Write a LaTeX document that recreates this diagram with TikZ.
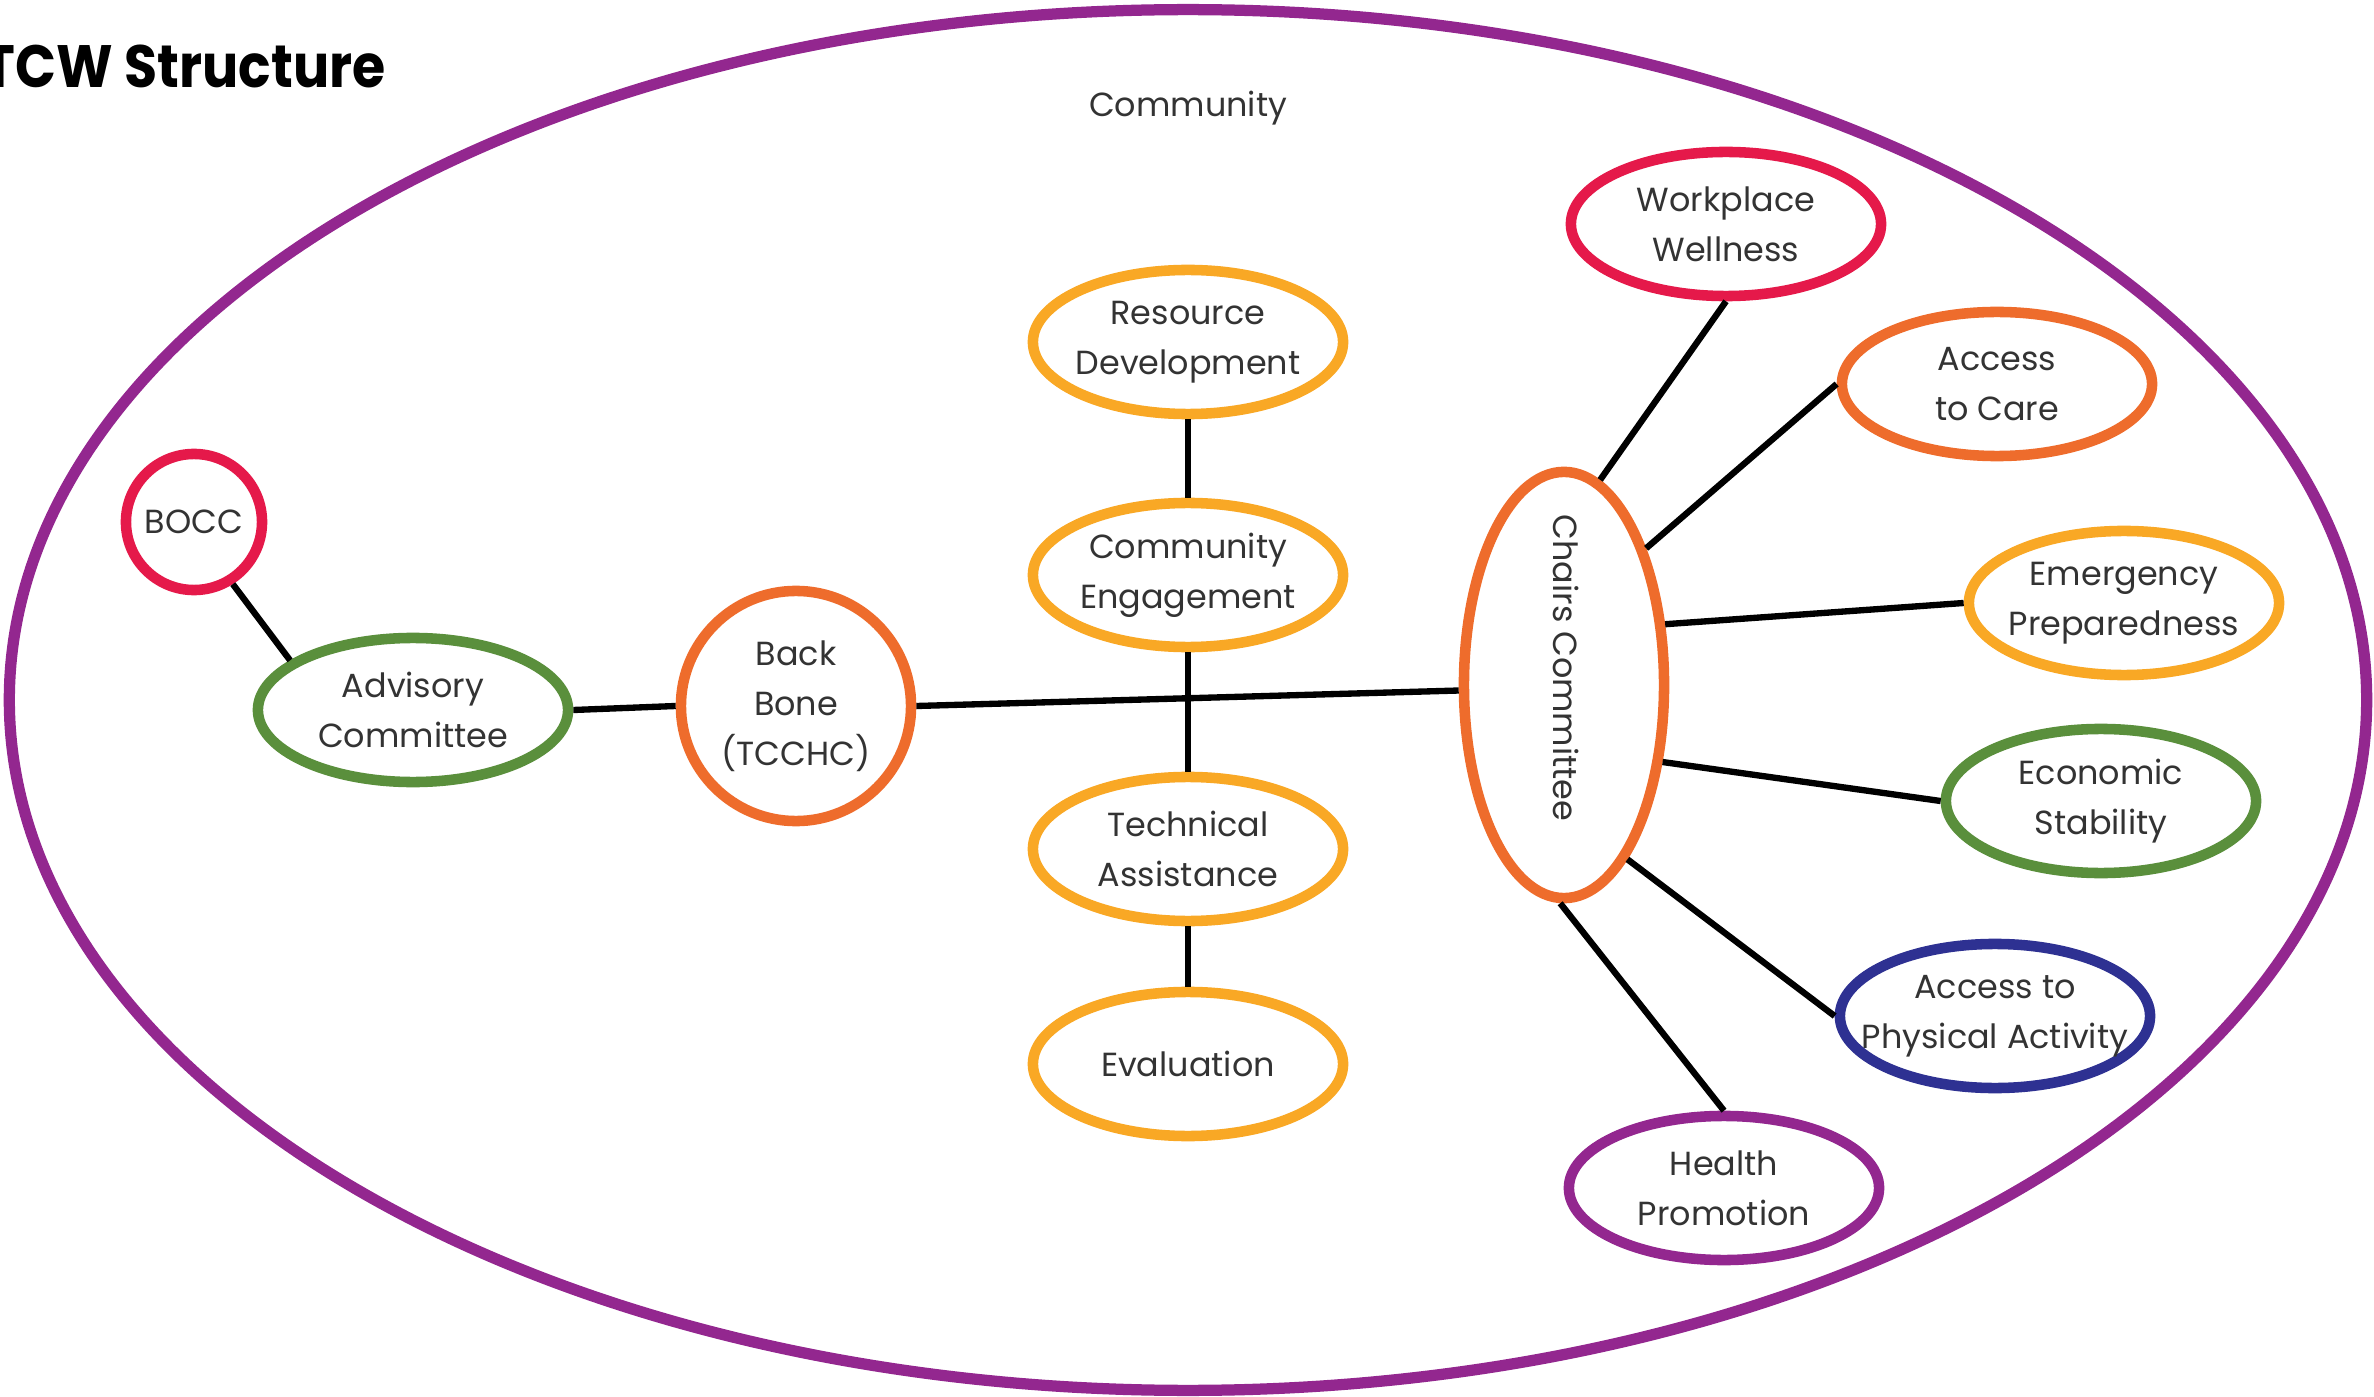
\documentclass[tikz,border=0pt]{standalone}
\usepackage{fontspec}
\setmainfont{Poppins}
\newfontfamily\titlefont[FakeStretch=0.9]{Poppins}
\usetikzlibrary{shapes.geometric}
\definecolor{cpurple}{HTML}{93278F}
\definecolor{cred}{HTML}{E5194A}
\definecolor{corange}{HTML}{EE6C2C}
\definecolor{cyellow}{HTML}{F9A825}
\definecolor{cgreen}{HTML}{5A8F3C}
\definecolor{cnavy}{HTML}{2E3192}
\definecolor{textgray}{HTML}{333333}
\begin{document}
\begin{tikzpicture}[x=0.01cm,y=-0.01cm,
  bub/.style={ellipse, draw, line width=3pt, inner sep=-9pt, align=center,
    text=textgray, font=\fontsize{9.5}{14.2}\selectfont, fill=white,
    minimum width=3.10cm, minimum height=1.44cm},
  link/.style={line width=1.8pt, black},
  lbl/.style={text=textgray, font=\fontsize{9.5}{14.2}\selectfont}]
\useasboundingbox (0,0) rectangle (2374,1397);
\draw[cpurple, line width=3.2pt] (1188,700) ellipse [x radius=11.78cm, y radius=6.90cm];
\node[anchor=base east, font=\titlefont\fontsize{17}{20}\selectfont\bfseries, text=black] (title) at (398,88) {TCW Structure};
\node[lbl] (community) at (1188,108) {Community};
% left
\node[bub, draw=cred, minimum width=1.36cm, minimum height=1.36cm] (bocc) at (194,522) {BOCC};
\node[bub, draw=cgreen] (adv) at (413,710) {Advisory\\Committee};
\node[bub, draw=corange, minimum width=2.30cm, minimum height=2.30cm] (bb) at (796,706) {Back\\Bone\\(TCCHC)};
% center column
\node[bub, draw=cyellow] (rd) at (1188,342) {Resource\\Development};
\node[bub, draw=cyellow] (ce) at (1188,575) {Community\\Engagement};
\node[bub, draw=cyellow] (ta) at (1188,849) {Technical\\Assistance};
\node[bub, draw=cyellow] (ev) at (1188,1064) {Evaluation};
% chairs
\node[bub, draw=corange, minimum width=2.0cm, minimum height=4.26cm] (ch) at (1564,685) {};
\node[lbl, rotate=-90] (chl) at (1566,668) {Chairs Committee};
% right
\node[bub, draw=cred] (ww) at (1726,224) {Workplace\\Wellness};
\node[bub, draw=corange] (ac) at (1997,384) {Access\\to Care};
\node[bub, draw=cyellow] (ep) at (2124,603) {Emergency\\Preparedness};
\node[bub, draw=cgreen] (es) at (2101,801) {Economic\\Stability};
\node[bub, draw=cnavy] (pa) at (1995,1016) {Access to\\Physical Activity};
\node[bub, draw=cpurple] (hp) at (1724,1188) {Health\\Promotion};
% connectors
\draw[link] (bocc.-58) -- (adv.158);
\draw[link] (adv.east) -- (bb.west);
\draw[link] (bb.east) -- (ch.183);
\draw[link] (rd.south) -- (ce.north);
\draw[link] (ce.south) -- (ta.north);
\draw[link] (ta.south) -- (ev.north);
\draw[link] (ch.80) -- (ww.south);
\draw[link] (ch.59) -- (ac.west);
\draw[link] (ch.31) -- (ep.west);
\draw[link] (ch.-38) -- (es.west);
\draw[link] (ch.-70) -- (pa.west);
\draw[link] (ch.-91) -- (hp.north);
\end{tikzpicture}
\end{document}
